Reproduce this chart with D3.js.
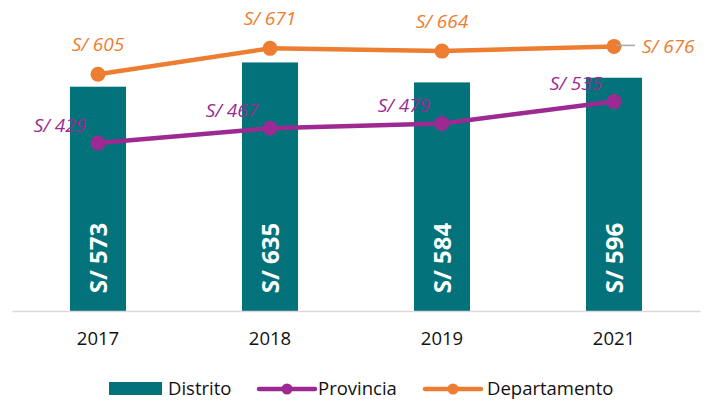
<!DOCTYPE html>
<html>
<head>
<meta charset="utf-8">
<script src="https://cdn.jsdelivr.net/npm/d3@7"></script>
<style>
  body { margin: 0; background: #fff; }
  svg text { font-family: 'Open Sans', sans-serif; }
</style>
</head>
<body>
<svg id="chart" width="715" height="403"></svg>
<script>
'use strict';

// chart data
const years = ['2017', '2018', '2019', '2021'];
const distrito = [573, 635, 584, 596];
const provincia = [429, 467, 479, 535];
const departamento = [605, 671, 664, 676];

const teal = '#04727B';
const purple = '#9C2A92';
const orange = '#ED7D31';

const svg = d3.select('#chart');

// x: one band per year, y: shared value scale for bars and lines
const x = d3.scaleBand().domain(years).range([12, 700])
  .paddingInner(0.674).paddingOuter(0.337);
const y = d3.scaleLinear().domain([0, 700]).range([311, 37]);
const cx = (d, i) => x(years[i]) + x.bandwidth() / 2;

// bars
svg.append('g')
  .selectAll('rect')
  .data(distrito)
  .join('rect')
  .attr('x', (d, i) => x(years[i]))
  .attr('width', x.bandwidth())
  .attr('y', d => y(d))
  .attr('height', d => y(0) - y(d))
  .style('fill', teal);

// x axis: baseline and year labels
const axis = svg.append('g')
  .attr('transform', `translate(0,${y(0)})`)
  .call(d3.axisBottom(x).tickSize(0).tickSizeOuter(0).tickPadding(21));
axis.select('.domain').attr('stroke', '#d9d9d9').attr('stroke-width', 1.5);
axis.selectAll('text')
  .style('font-size', '18.5px')
  .style('font-family', "'Open Sans', sans-serif")
  .attr('fill', '#111');

// vertical white labels inside bars
svg.append('g')
  .selectAll('text')
  .data(distrito)
  .join('text')
  .attr('transform', (d, i) => `translate(${cx(d, i) + 1},258) rotate(-90)`)
  .attr('text-anchor', 'middle')
  .attr('dy', '0.35em')
  .style('font-size', '24px')
  .style('font-weight', 'bold')
  .style('fill', '#fff')
  .text(d => `S/ ${d}`);

// line series with markers
const line = d3.line().x(cx).y(d => y(d));
const drawSeries = function (vals, color) {
  const g = svg.append('g');
  g.append('path')
    .datum(vals)
    .attr('d', line)
    .attr('fill', 'none')
    .attr('stroke', color)
    .attr('stroke-width', 4.5)
    .attr('stroke-linejoin', 'round');
  g.selectAll('circle')
    .data(vals)
    .join('circle')
    .attr('cx', cx)
    .attr('cy', d => y(d))
    .attr('r', 7.5)
    .style('fill', color);
  return g;
};

const gProv = drawSeries(provincia, purple);
const gDep = drawSeries(departamento, orange);

// Provincia labels sit above-left of each point
gProv.selectAll('text')
  .data(provincia)
  .join('text')
  .attr('x', (d, i) => cx(d, i) - 38)
  .attr('y', d => y(d) - 18)
  .attr('dy', '0.35em')
  .attr('text-anchor', 'middle')
  .style('font-size', '19px')
  .style('font-style', 'italic')
  .style('fill', purple)
  .text(d => `S/ ${d}`);

// Departamento labels above, last one to the right with a leader line
const last = departamento.length - 1;
gDep.selectAll('text')
  .data(departamento)
  .join('text')
  .attr('x', (d, i) => i === last ? cx(d, i) + 28 : cx(d, i))
  .attr('y', (d, i) => i === last ? y(d) : y(d) - 30)
  .attr('dy', '0.35em')
  .attr('text-anchor', (d, i) => i === last ? 'start' : 'middle')
  .style('font-size', '19px')
  .style('font-style', 'italic')
  .style('fill', orange)
  .text(d => `S/ ${d}`);
gDep.append('line')
  .attr('x1', cx(departamento[last], last) + 2)
  .attr('x2', cx(departamento[last], last) + 21)
  .attr('y1', y(departamento[last]) - 1)
  .attr('y2', y(departamento[last]) - 1)
  .attr('stroke', '#a6a6a6')
  .attr('stroke-width', 1.5);

// legend
const legend = svg.append('g').attr('transform', 'translate(0,389)');
legend.append('rect')
  .attr('x', 109).attr('y', -7).attr('width', 53).attr('height', 13)
  .style('fill', teal);
const legendItems = [
  { name: 'Distrito', tx: 168 },
  { name: 'Provincia', tx: 318, color: purple, x1: 259 },
  { name: 'Departamento', tx: 487, color: orange, x1: 425 },
];
legendItems.forEach(function (it) {
  if (it.color) {
    legend.append('line')
      .attr('x1', it.x1).attr('x2', it.x1 + 56)
      .attr('stroke', it.color).attr('stroke-width', 4.5)
      .attr('stroke-linecap', 'round');
    legend.append('circle')
      .attr('cx', it.x1 + 28).attr('r', 5.5)
      .style('fill', it.color);
  }
  legend.append('text')
    .attr('x', it.tx)
    .attr('dy', '0.35em')
    .style('font-size', '18.5px')
    .style('fill', '#111')
    .text(it.name);
});
</script>
</body>
</html>
